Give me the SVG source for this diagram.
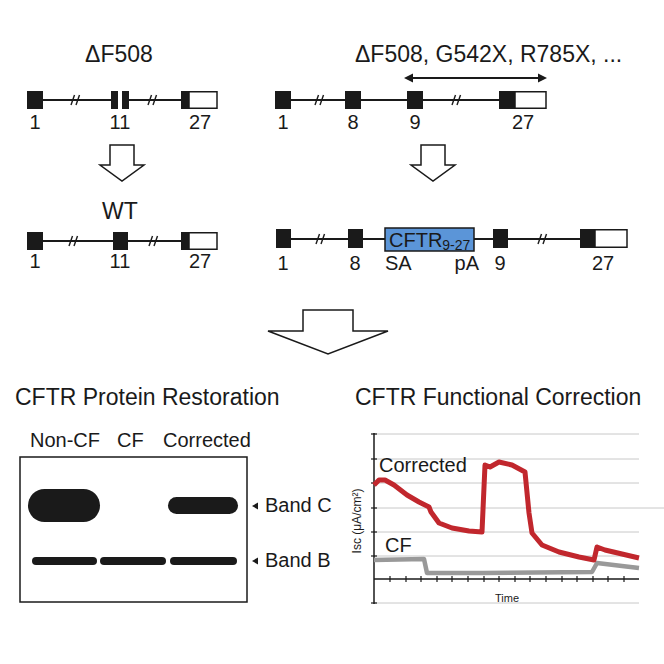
<svg xmlns="http://www.w3.org/2000/svg" width="664" height="664" viewBox="0 0 664 664">
<style>
text{font-family:"Liberation Sans",Arial,sans-serif;fill:#1a1a1a}
.h{font-size:23px}
.lb{font-size:20px}
.ln{stroke:#1a1a1a;stroke-width:2;fill:none}
.ex{fill:#1a1a1a}
.ut{fill:#fff;stroke:#1a1a1a;stroke-width:1.5}
.sl{stroke:#1a1a1a;stroke-width:1.4}
.ar{fill:#fff;stroke:#1a1a1a;stroke-width:1.5;stroke-linejoin:miter}
.grid{stroke:#c8c8c8;stroke-width:1}
.ax{stroke:#1a1a1a;stroke-width:1.5}
.tk{stroke:#1a1a1a;stroke-width:1.2}
.band{fill:#1a1a1a}
</style>
<defs>
<g id="slash"><line class="sl" x1="-5" y1="5" x2="-1.5" y2="-5"/><line class="sl" x1="0" y1="5" x2="3.5" y2="-5"/></g>
</defs>

<g id="gene-df508">
<text class="h" x="119" y="62" text-anchor="middle">ΔF508</text>
<line class="ln" x1="43" y1="100" x2="111" y2="100"/>
<line class="ln" x1="129" y1="100" x2="181" y2="100"/>
<rect class="ex" x="27" y="91" width="16" height="18"/>
<rect class="ex" x="111" y="91" width="7" height="18"/>
<rect class="ex" x="122" y="91" width="7" height="18"/>
<rect class="ex" x="181" y="91" width="8" height="18"/>
<rect class="ut" x="189" y="91.75" width="28" height="16.5"/>
<use href="#slash" x="76" y="100"/>
<use href="#slash" x="153" y="100"/>
<text class="lb" x="35" y="129" text-anchor="middle">1</text>
<text class="lb" x="120" y="129" text-anchor="middle">11</text>
<text class="lb" x="200" y="129" text-anchor="middle">27</text>
</g>

<g id="gene-mutations">
<text class="h" x="355" y="62">ΔF508, G542X, R785X, ...</text>
<line class="ln" x1="412" y1="78" x2="539" y2="78"/>
<polygon class="ex" points="404,78 413,73.5 413,82.5"/>
<polygon class="ex" points="547,78 538,73.5 538,82.5"/>
<line class="ln" x1="290" y1="100" x2="499" y2="100"/>
<rect class="ex" x="275" y="91" width="16" height="18"/>
<rect class="ex" x="345" y="91" width="16" height="18"/>
<rect class="ex" x="407" y="91" width="16" height="18"/>
<rect class="ex" x="499" y="91" width="16" height="18"/>
<rect class="ut" x="515" y="91.75" width="31" height="16.5"/>
<use href="#slash" x="320" y="100"/>
<use href="#slash" x="457" y="100"/>
<text class="lb" x="283" y="129" text-anchor="middle">1</text>
<text class="lb" x="353" y="129" text-anchor="middle">8</text>
<text class="lb" x="415" y="129" text-anchor="middle">9</text>
<text class="lb" x="523" y="129" text-anchor="middle">27</text>
</g>

<g id="gene-wt">
<text class="h" x="120" y="219" text-anchor="middle">WT</text>
<line class="ln" x1="42" y1="241" x2="181" y2="241"/>
<rect class="ex" x="27" y="232" width="16" height="18"/>
<rect class="ex" x="113" y="232" width="15" height="18"/>
<rect class="ex" x="181" y="232" width="8" height="18"/>
<rect class="ut" x="189" y="232.75" width="28" height="16.5"/>
<use href="#slash" x="74" y="241"/>
<use href="#slash" x="154" y="241"/>
<text class="lb" x="35" y="268" text-anchor="middle">1</text>
<text class="lb" x="120" y="268" text-anchor="middle">11</text>
<text class="lb" x="200" y="268" text-anchor="middle">27</text>
</g>

<g id="gene-corrected">
<line class="ln" x1="291" y1="239" x2="580" y2="239"/>
<rect class="ex" x="276" y="229" width="15" height="19"/>
<rect class="ex" x="348" y="229" width="15" height="19"/>
<rect x="385" y="228" width="89" height="23" fill="#5b95d8" stroke="#1a1a1a" stroke-width="1.5"/>
<text x="389" y="247" font-size="20">CFTR<tspan font-size="14" dy="3">9-27</tspan></text>
<rect class="ex" x="493" y="229" width="15" height="19"/>
<rect class="ex" x="580" y="229" width="15" height="19"/>
<rect class="ut" x="595" y="229.75" width="32" height="17.5"/>
<use href="#slash" x="321" y="239"/>
<use href="#slash" x="543" y="239"/>
<text class="lb" x="283" y="270" text-anchor="middle">1</text>
<text class="lb" x="355" y="270" text-anchor="middle">8</text>
<text class="lb" x="385" y="270">SA</text>
<text class="lb" x="479" y="270" text-anchor="end">pA</text>
<text class="lb" x="500" y="270" text-anchor="middle">9</text>
<text class="lb" x="603" y="270" text-anchor="middle">27</text>
</g>

<g id="connectors">
<polygon class="ar" points="110,145 134,145 134,165 144,165 122,181 100,165 110,165"/>
<polygon class="ar" points="421,145 445,145 445,165 455,165 433,181 411,165 421,165"/>
<polygon class="ar" points="303,310 353,310 353,331 388,331 328,354 268,331 303,331"/>
</g>

<g id="protein-restoration">
<text class="h" x="15" y="405">CFTR Protein Restoration</text>
<text class="lb" x="30" y="447">Non-CF</text>
<text class="lb" x="117" y="447">CF</text>
<text class="lb" x="163" y="447">Corrected</text>
<rect x="20" y="457" width="227" height="145" fill="#fff" stroke="#1a1a1a" stroke-width="1.5"/>
<rect class="band" x="28" y="489" width="72" height="33" rx="16.5"/>
<rect class="band" x="168" y="497" width="70" height="17" rx="8.5"/>
<rect class="band" x="32" y="557" width="65" height="8" rx="4"/>
<rect class="band" x="100" y="557" width="66" height="8" rx="4"/>
<rect class="band" x="170" y="557" width="67" height="8" rx="4"/>
<polygon class="ex" points="252,506 258,502.5 258,509.5"/>
<polygon class="ex" points="252,561 258,557.5 258,564.5"/>
<text class="lb" x="265" y="512">Band C</text>
<text class="lb" x="265" y="567">Band B</text>
</g>

<g id="functional-correction">
<text class="h" x="355" y="405">CFTR Functional Correction</text>
<line class="grid" x1="374" y1="434" x2="639" y2="434"/>
<line class="grid" x1="374" y1="459" x2="639" y2="459"/>
<line class="grid" x1="374" y1="483" x2="639" y2="483"/>
<line class="grid" x1="374" y1="508" x2="664" y2="508"/>
<line class="grid" x1="374" y1="532" x2="639" y2="532"/>
<line class="grid" x1="374" y1="556" x2="639" y2="556"/>
<line class="grid" x1="374" y1="603" x2="639" y2="603"/>
<line class="ax" x1="374" y1="433" x2="374" y2="604"/>
<line class="ax" x1="374" y1="579" x2="639" y2="579"/>
<g class="tk">
<line x1="371" y1="434" x2="377" y2="434"/><line x1="371" y1="459" x2="377" y2="459"/>
<line x1="371" y1="483" x2="377" y2="483"/><line x1="371" y1="508" x2="377" y2="508"/>
<line x1="371" y1="532" x2="377" y2="532"/><line x1="371" y1="556" x2="377" y2="556"/>
<line x1="371" y1="603" x2="377" y2="603"/>
<line x1="390" y1="576" x2="390" y2="582"/><line x1="406" y1="576" x2="406" y2="582"/>
<line x1="421" y1="576" x2="421" y2="582"/><line x1="437" y1="576" x2="437" y2="582"/>
<line x1="452" y1="576" x2="452" y2="582"/><line x1="468" y1="576" x2="468" y2="582"/>
<line x1="484" y1="576" x2="484" y2="582"/><line x1="499" y1="576" x2="499" y2="582"/>
<line x1="515" y1="576" x2="515" y2="582"/><line x1="530" y1="576" x2="530" y2="582"/>
<line x1="546" y1="576" x2="546" y2="582"/><line x1="562" y1="576" x2="562" y2="582"/>
<line x1="577" y1="576" x2="577" y2="582"/><line x1="593" y1="576" x2="593" y2="582"/>
<line x1="608" y1="576" x2="608" y2="582"/><line x1="624" y1="576" x2="624" y2="582"/>
</g>
<polyline fill="none" stroke="#999" stroke-width="4.5" stroke-linejoin="round" points="374,560 424,559 427,573 482,573 592,572 597,563 622,566 639,568"/>
<polyline fill="none" stroke="#c1272d" stroke-width="5" stroke-linejoin="round" points="374,485 379,480 385,480 394,485 407,495 419,502 429,507 431,512 439,523 452,528 469,531 482,532 485,465 490,467 499,462 512,465 525,472 529,513 532,533 542,545 559,552 579,557 594,560 597,547 605,550 622,554 639,558"/>
<text class="lb" x="379" y="472">Corrected</text>
<text class="lb" x="385" y="552">CF</text>
<text x="507" y="602" font-size="11" text-anchor="middle">Time</text>
<text x="0" y="0" font-size="12" text-anchor="middle" transform="translate(361,521) rotate(-90)">Isc (μA/cm²)</text>
</g>
</svg>
